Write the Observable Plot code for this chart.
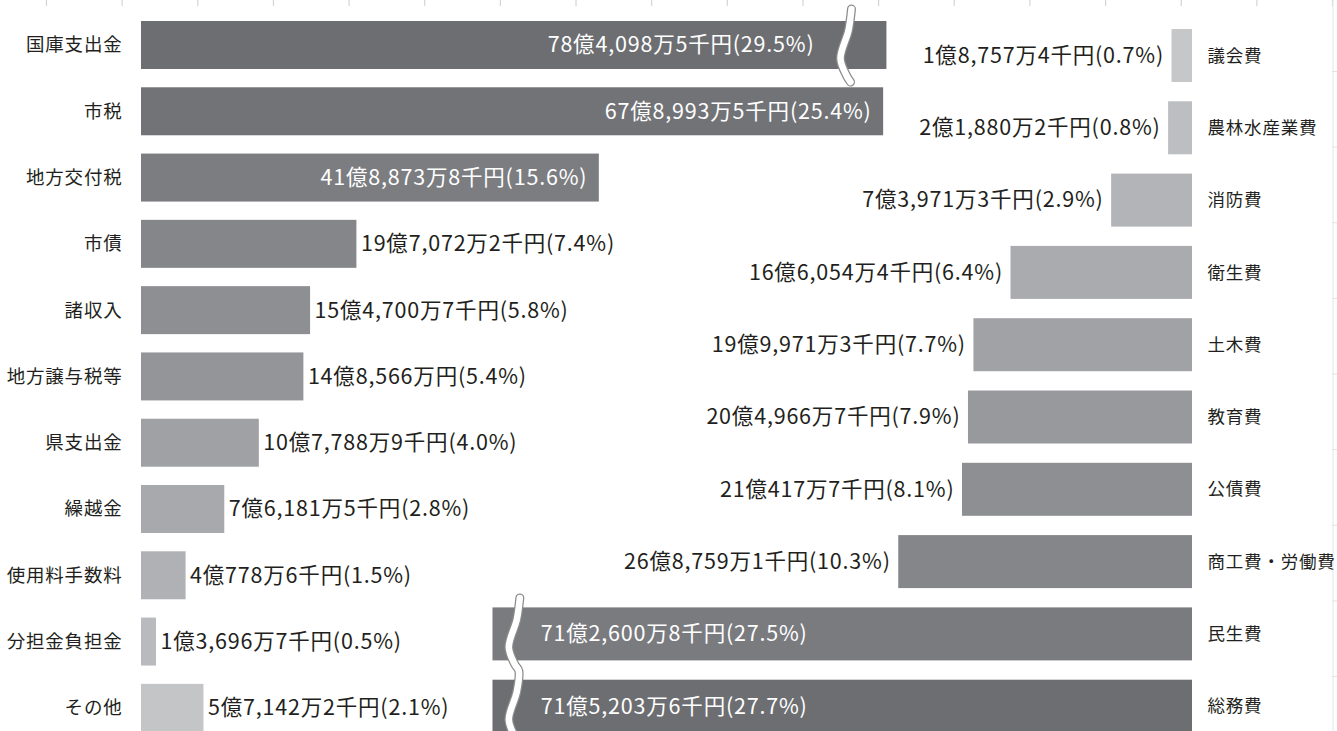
<!DOCTYPE html>
<html><head><meta charset="utf-8">
<script src="https://cdn.jsdelivr.net/npm/d3@7"></script>
<script src="https://cdn.jsdelivr.net/npm/@observablehq/plot@0.6"></script>
<style>
html,body{margin:0;padding:0;background:#fff;overflow:hidden}
#chart{position:relative;width:1337px;height:731px}
#chart svg{position:absolute;left:0;top:0}
</style></head><body><div id="chart"></div>
<script>
// ---- data (amounts in 千円, shares in %) ----
const revenueCategories = ["国庫支出金","市税","地方交付税","市債","諸収入","地方譲与税等","県支出金","繰越金","使用料手数料","分担金負担金","その他"];
const revenueAmounts = [7840985, 6789935, 4188738, 1970722, 1547007, 1485660, 1077889, 761815, 407786, 136967, 571422];
const revenueShares = [29.5, 25.4, 15.6, 7.4, 5.8, 5.4, 4.0, 2.8, 1.5, 0.5, 2.1];

const expenseCategories = ["議会費","農林水産業費","消防費","衛生費","土木費","教育費","公債費","商工費・労働費","民生費","総務費"];
const expenseAmounts = [187574, 218802, 739713, 1660544, 1999713, 2049667, 2104177, 2687591, 7126008, 7152036];
const expenseShares = [0.7, 0.8, 2.9, 6.4, 7.7, 7.9, 8.1, 10.3, 27.5, 27.7];

const gridColumns = [0,1,2,3,4,5,6,7,8,9,10,11,12,13,14,15,16,17];
const gridRows = [0,1,2,3,4,5,6,7,8];

// ---- styling ----
const revenueShades = ["#6d6e72","#727377","#7c7d81","#85868a","#8e8f93","#949599","#a0a1a5","#a8a9ac","#b0b1b4","#b9babd","#c4c5c7"];
const expenseShades = ["#c6c7c9","#bdbec1","#b3b4b7","#aaabae","#a1a2a5","#98999c","#8e8f93","#85868a","#7a7b7f","#6d6e72"];
const FONT = "'Noto Sans CJK JP','Noto Sans',sans-serif";
const TXT = "#231f20";
const PX = 10.93;           // pixels per 億円
const L_CAP = 68.2, L_BREAK = 64.5;   // displayed length / break of truncated revenue bar
const R_CAP = 64.0, R_BREAK = 62.0;   // same for expenditure side
const INSIDE = 35;          // bars longer than this carry a white label inside
const VAL_SIZE = 21.5;

function yen(v){
  const oku = Math.floor(v/100000), man = Math.floor((v%100000)/10), sen = v%10;
  return `${oku}億${man ? d3.format(",")(man)+"万" : ""}${sen ? sen+"千" : ""}円`;
}
const rev = revenueCategories.map((c,i)=>({c, i, v: revenueAmounts[i]/1e5, fill: revenueShades[i],
  label: `${yen(revenueAmounts[i])}(${revenueShares[i].toFixed(1)}%)`}));
const exp = expenseCategories.map((c,i)=>({c, i, v: expenseAmounts[i]/1e5, fill: expenseShades[i],
  label: `${yen(expenseAmounts[i])}(${expenseShares[i].toFixed(1)}%)`}));

// break shape (pixel offsets from the break centre)
const shapeDX = [5, 2, -6, 0, 4];
const shapeDY = [-36.5, -15, 13, 30, 36.5];
function breakPoints(rows, brk, step, sign){
  const pts = [];
  let prev = null;
  for (const r of rows){
    shapeDX.forEach((dx,k)=>{
      if (k===0 && prev!==null && prev===r.i-1) return;
      pts.push({x: brk + sign*dx/PX, y: r.i + shapeDY[k]/step});
    });
    prev = r.i;
  }
  return pts;
}
const revBreak = breakPoints(rev.filter(d=>d.v>L_CAP), L_BREAK, 66.3, 1);
const expBreak = breakPoints(exp.filter(d=>d.v>R_CAP), R_BREAK, 72.3, -1);

const chart = document.getElementById("chart");

// background grid stubs
chart.append(Plot.plot({
  width:1337, height:6, margin:0,
  style:{background:"transparent"},
  x:{domain:[0,17], range:[46,1332], axis:null},
  marks:[Plot.ruleX(gridColumns, {x:d=>d, stroke:"#d4d4d4", strokeWidth:1.2})]
}));
const edge = Plot.plot({
  width:6, height:731, margin:0,
  style:{background:"transparent"},
  x:{domain:[0,1], range:[0.5,6], axis:null},
  y:{domain:[0,8], range:[71,676], axis:null},
  marks:[
    Plot.ruleY(gridRows, {y:d=>d, stroke:"#e2e2e2"}),
    Plot.ruleX([0], {stroke:"#e6e6e6"})
  ]
});
edge.style.left = "1332px";
chart.append(edge);

// expenditure (right)
chart.append(Plot.plot({
  width:1337, height:731, margin:0,
  style:{background:"transparent", fontFamily:FONT, fontSize:"18px", color:TXT, overflow:"visible", letterSpacing:"0.8px"},
  x:{domain:[0,100], range:[1192, 1192-100*PX], axis:null},
  y:{domain:[-0.5,9.5], range:[19.35,742.35], axis:null},
  color:{type:"identity"},
  marks:[
    Plot.rect(exp, {x1:0, x2:d=>Math.min(d.v,R_CAP), y1:d=>d.i-0.3665, y2:d=>d.i+0.3665, fill:"fill"}),
    Plot.line(expBreak, {x:"x", y:"y", stroke:"#8c8c8c", strokeWidth:9, curve:"catmull-rom"}),
    Plot.line(expBreak, {x:"x", y:"y", stroke:"#ffffff", strokeWidth:6.5, curve:"catmull-rom"}),
    Plot.text(exp, {x:0, y:"i", text:"c", dx:15, textAnchor:"start", fill:TXT, fontSize:17.5}),
    Plot.text(exp.filter(d=>d.v<=INSIDE), {x:"v", y:"i", text:"label", dx:-8, textAnchor:"end", fill:TXT, fontSize:VAL_SIZE}),
    Plot.text(exp.filter(d=>d.v>INSIDE), {x:R_BREAK, y:"i", text:"label", dx:26, textAnchor:"start", fill:"#ffffff", fontSize:VAL_SIZE})
  ]
}));

// revenue (left)
chart.append(Plot.plot({
  width:1337, height:731, margin:0,
  style:{background:"transparent", fontFamily:FONT, fontSize:"19px", color:TXT, overflow:"visible", letterSpacing:"0.8px"},
  x:{domain:[0,100], range:[141, 141+100*PX], axis:null},
  y:{domain:[-0.5,10.5], range:[11.85,741], axis:null},
  color:{type:"identity"},
  marks:[
    Plot.rect(rev, {x1:0, x2:d=>Math.min(d.v,L_CAP), y1:d=>d.i-0.362, y2:d=>d.i+0.362, fill:"fill"}),
    Plot.line(revBreak, {x:"x", y:"y", stroke:"#8c8c8c", strokeWidth:9, curve:"catmull-rom"}),
    Plot.line(revBreak, {x:"x", y:"y", stroke:"#ffffff", strokeWidth:6.5, curve:"catmull-rom"}),
    Plot.text(rev, {x:0, y:"i", text:"c", dx:-19, textAnchor:"end", fill:TXT, fontSize:18.5}),
    Plot.text(rev.filter(d=>d.v<=INSIDE), {x:"v", y:"i", text:"label", dx:4, textAnchor:"start", fill:TXT, fontSize:VAL_SIZE}),
    Plot.text(rev.filter(d=>d.v>INSIDE && d.v<=L_CAP), {x:"v", y:"i", text:"label", dx:-12, textAnchor:"end", fill:"#ffffff", fontSize:VAL_SIZE}),
    Plot.text(rev.filter(d=>d.v>L_CAP), {x:L_BREAK, y:"i", text:"label", dx:-32, textAnchor:"end", fill:"#ffffff", fontSize:VAL_SIZE})
  ]
}));
</script></body></html>
